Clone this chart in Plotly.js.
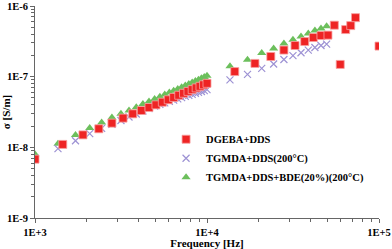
<!DOCTYPE html>
<html>
<head>
<meta charset="utf-8">
<script src="https://cdn.plot.ly/plotly-3.0.1.min.js"></script>
<style>html,body{margin:0;padding:0;background:#fff}#chart{width:392px;height:249px}</style>
</head>
<body>
<div id="chart"></div>
<script>
// DGEBA+DDS
const freqDGEBA = [1000,1450,1900,2350,2800,3250,3700,4150,4600,5050,5500,5950,6400,6850,7300,7750,8200,8650,9100,9550,10000,
  14500,19000,23500,28000,32500,37000,41500,46000,50500,55000,59500,64000,68500,73000,100000];
const sigmaDGEBA = [6.8e-9,1.10e-8,1.50e-8,1.83e-8,2.20e-8,2.59e-8,2.98e-8,3.32e-8,3.66e-8,3.99e-8,4.35e-8,4.71e-8,5.08e-8,5.46e-8,5.82e-8,6.19e-8,6.56e-8,6.93e-8,7.30e-8,7.67e-8,8.05e-8,
  1.18e-7,1.54e-7,1.93e-7,2.38e-7,2.76e-7,3.14e-7,3.58e-7,3.82e-7,3.87e-7,5.35e-7,1.49e-7,4.64e-7,5.28e-7,6.84e-7,2.71e-7];
// TGMDA+DDS(200°C) and TGMDA+DDS+BDE(20%)(200°C)
const freqTGMDA = [1000,1360,1720,2080,2440,2800,3160,3520,3880,4240,4600,4960,5320,5680,6040,6400,6760,7120,7480,7840,8200,8560,8920,9280,9640,10000,
  13600,17200,20800,24400,28000,31600,35200,38800,42400,46000,49600];
const sigmaTGMDA = [7.0e-9,9.59e-9,1.24e-8,1.56e-8,1.85e-8,2.11e-8,2.40e-8,2.69e-8,2.96e-8,3.27e-8,3.54e-8,3.85e-8,4.05e-8,4.25e-8,4.46e-8,4.65e-8,4.85e-8,5.05e-8,5.25e-8,5.44e-8,5.63e-8,5.82e-8,5.99e-8,6.17e-8,6.35e-8,6.56e-8,
  8.99e-8,1.08e-7,1.31e-7,1.51e-7,1.75e-7,1.98e-7,2.18e-7,2.38e-7,2.59e-7,2.76e-7,2.89e-7];
const sigmaBDE = [7.97e-9,1.12e-8,1.50e-8,1.88e-8,2.25e-8,2.65e-8,2.98e-8,3.32e-8,3.70e-8,4.10e-8,4.45e-8,4.82e-8,5.19e-8,5.58e-8,5.95e-8,6.33e-8,6.71e-8,7.11e-8,7.49e-8,7.89e-8,8.28e-8,8.67e-8,9.07e-8,9.46e-8,9.87e-8,1.03e-7,
  1.40e-7,1.73e-7,2.16e-7,2.50e-7,2.94e-7,3.32e-7,3.70e-7,4.07e-7,4.49e-7,4.79e-7,5.18e-7];
const seriesNames = ['DGEBA+DDS','TGMDA+DDS(200°C)','TGMDA+DDS+BDE(20%)(200°C)'];
const xTickVals = [1e3,1e4,1e5];
const xTickText = ['1E+3','1E+4','1E+5'];
const yTickVals = [1e-9,1e-8,1e-7,1e-6];
const yTickText = ['1E-9','1E-8','1E-7','1E-6'];

const serif = 'Liberation Serif, Times New Roman, serif';
const traces = [
  {x: freqDGEBA, y: sigmaDGEBA, name: seriesNames[0], type:'scatter', mode:'markers',
   marker:{symbol:'square', size:8, color:'#ee2424', line:{color:'#f7a0a0', width:0.8}}},
  {x: freqTGMDA, y: sigmaTGMDA, name: seriesNames[1], type:'scatter', mode:'markers',
   marker:{symbol:'x-thin-open', size:7, color:'#9d92d4', line:{color:'#9d92d4', width:1.2}}},
  {x: freqTGMDA, y: sigmaBDE, name: seriesNames[2], type:'scatter', mode:'markers',
   marker:{symbol:'triangle-up', size:8, color:'#6cbf5c'}}
];
const ordered = [traces[2], traces[1], traces[0]];
const layout = {
  width:392, height:249,
  margin:{l:35, r:13, t:6, b:31},
  paper_bgcolor:'#fff', plot_bgcolor:'#fff',
  showlegend:true,
  legend:{x:0.381, y:0.44, xanchor:'left', yanchor:'top', bgcolor:'rgba(0,0,0,0)',
    font:{family:serif, size:10.5, color:'#000', weight:'bold'}, traceorder:'reversed', itemwidth:30, tracegroupgap:0},
  xaxis:{type:'log', range:[3,5], tickvals:xTickVals, ticktext:xTickText,
    showgrid:false, zeroline:false, showline:true, linecolor:'#666', linewidth:1,
    ticks:'outside', ticklen:4, tickcolor:'#666',
    minor:{ticks:'outside', ticklen:3, tickcolor:'#666', dtick:'D1'},
    tickfont:{family:serif, size:10.5, color:'#000', weight:'bold'},
    title:{text:'Frequency [Hz]', font:{family:serif, size:11, color:'#000', weight:'bold'}, standoff:3}},
  yaxis:{type:'log', range:[-9,-6], tickvals:yTickVals, ticktext:yTickText,
    showgrid:false, zeroline:false, showline:true, linecolor:'#666', linewidth:1,
    ticks:'outside', ticklen:4, tickcolor:'#666',
    minor:{ticks:'outside', ticklen:3, tickcolor:'#666', dtick:'D1'},
    tickfont:{family:serif, size:10.5, color:'#000', weight:'bold'},
    title:{text:'σ [S/m]', font:{family:serif, size:11, color:'#000', weight:'bold'}, standoff:1}}
};
Plotly.newPlot('chart', ordered, layout, {displayModeBar:false, staticPlot:true});
</script>
</body>
</html>
